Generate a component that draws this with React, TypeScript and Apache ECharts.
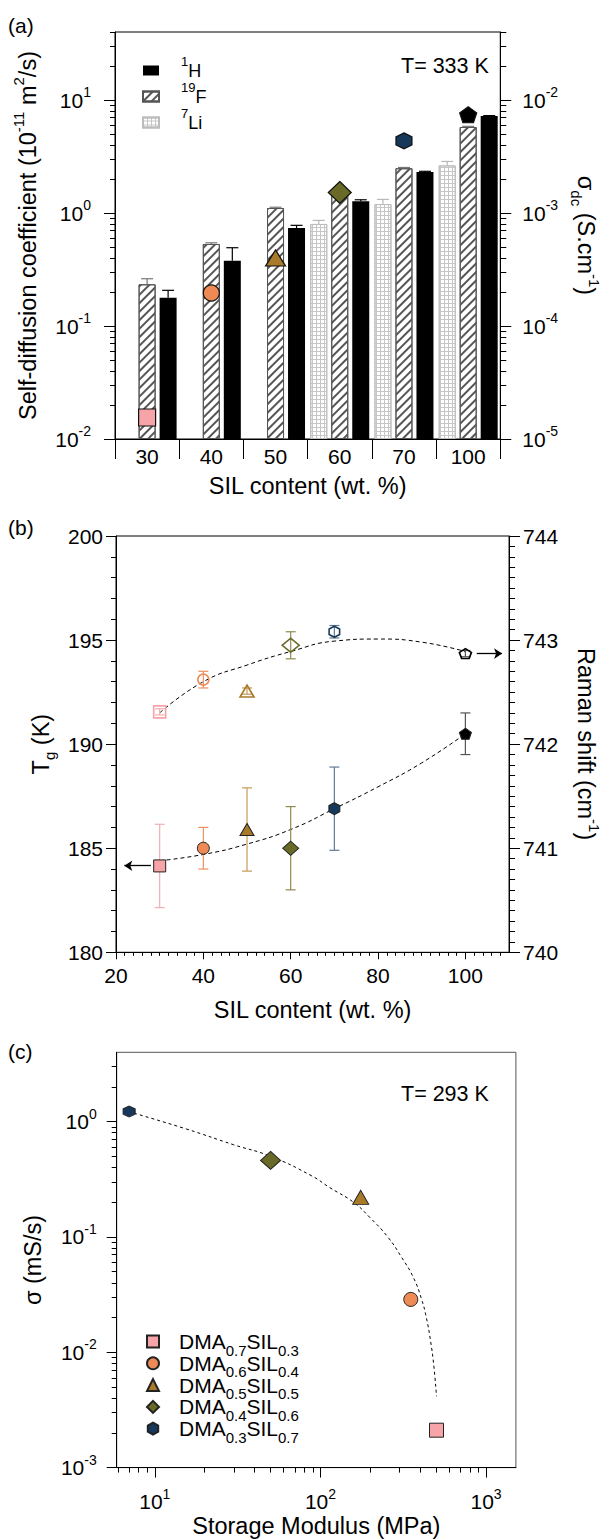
import React, { useEffect, useRef } from 'react';
import * as echarts from 'echarts';

const FONT = '"Liberation Sans", Arial, Helvetica, sans-serif';

// ---------- Panel (a): self-diffusion (left, 1e-11 m2/s) and sigma_dc (right, S/cm) ----------
const catsA = ['30', '40', '50', '60', '70', '100'];
const li7 = [null, null, null, 0.8, 1.2, 2.64];
const li7Err = [null, null, null, 0.86, 1.32, 2.86];
const f19 = [0.234, 0.532, 1.107, 1.45, 2.49, 5.77];
const f19Err = [0.262, 0.545, 1.125, 1.5, 2.53, 5.85];
const h1 = [0.178, 0.378, 0.736, 1.27, 2.31, 7.21];
const h1Err = [0.207, 0.493, 0.778, 1.31, 2.34, 7.28];
const sigmaDcA = [1.55e-5, 1.96e-4, 4.0e-4, 1.52e-3, 4.35e-3, 7.41e-3];
const leftExpA = [-2, -1, 0, 1];
const rightExpA = [-5, -4, -3, -2];

// ---------- Panel (b): Tg (left) and Raman shift (right) ----------
const silB = [30, 40, 50, 60, 70, 100];
const tgB = [184.15, 185.0, 185.9, 185.0, 186.9, 190.5];
const tgErrB = [2.0, 1.0, 2.0, 2.0, 2.0, 1.0];
const ramanB = [742.31, 742.62, 742.51, 742.95, 743.08, 742.87];
const ramanErrB = [0.03, 0.08, 0.03, 0.13, 0.06, 0.03];
const tgFitX = [30, 40, 50, 60, 70, 80, 90, 100];
const tgFitY = [184.4, 184.7, 185.2, 185.9, 186.9, 187.95, 189.1, 190.5];
const ramanFitX = [30, 40, 50, 60, 70, 80, 90, 100];
const ramanFitY = [742.3, 742.6, 742.76, 742.89, 742.99, 743.01, 742.98, 742.89];
const xTicksB = [20, 40, 60, 80, 100];
const xMinorB = [22, 24, 26, 28, 30, 32, 34, 36, 38, 42, 44, 46, 48, 50, 52, 54, 56, 58, 62, 64, 66, 68, 70, 72, 74, 76, 78, 82, 84, 86, 88, 90, 92, 94, 96, 98, 102, 104, 106, 108];

// ---------- Panel (c): sigma vs storage modulus ----------
const modulusC = [502, 351, 175, 50, 7];
const sigmaC = [0.00211, 0.0287, 0.22, 0.46, 1.22];
const compC = [['0.7', '0.3'], ['0.6', '0.4'], ['0.5', '0.5'], ['0.4', '0.6'], ['0.3', '0.7']];
const fitModulusC = [6.93, 15.6, 29.8, 49.8, 87.9, 114, 158, 199, 256, 309, 363, 407, 437, 463, 483, 502];
const fitSigmaC = [1.22, 0.859, 0.63, 0.5, 0.34, 0.267, 0.2, 0.147, 0.0991, 0.0665, 0.0448, 0.0291, 0.0196, 0.0123, 0.00776, 0.00415];
const xExpC = [1, 2, 3];
const yExpC = [-3, -2, -1, 0];

// ---------- styles ----------
const HEX = 'path://M0,-10L8.66,-5L8.66,5L0,10L-8.66,5L-8.66,-5Z';
const PENT = 'path://M0,-10L9.51,-3.09L5.88,8.09L-5.88,8.09L-9.51,-3.09Z';
const SYMBOLS = ['rect', 'circle', 'triangle', 'diamond', HEX, PENT];
const FILLS = ['#F6A4A8', '#EE8A55', '#A87A2A', '#6A6A28', '#16385A', '#000000'];
const ERRC = ['#F3AEB1', '#EB9061', '#C49B57', '#8E8C4F', '#5E7B96', '#555555'];
const SIZE_A: any[] = [17, 16, [20, 16], [23, 22], 16, [17, 16]];
const SIZE_B: any[] = [12, 12, [14, 12], [16, 14], [11, 12], [12, 11]];
const SIZE_BO: any[] = [12, 11, [14, 12], [17, 14], [10.5, 11], [12, 10]];
const SIZE_C: any[] = [14, 14, [16, 14], [20, 18], [12, 11]];
const ERR_A_COLORS = ['#b8b8b8', '#777777', '#000000'];
const BAR_W = 17;
const BAR_GAP = 4;

const lg = Math.log10;
const shL = (v: number) => lg(v) + 2;
const shR = (v: number) => lg(v) + 5;
const A_MAX = lg(40) + 2;
const C_XMIN = 0.77;
const C_XMAX = 3.18;
const C_YMIN = -3;
const C_YMAX = 0.6;

function minorLogs(exps: number[], offset: number, min: number, max: number) {
  const out: number[] = [];
  exps.forEach((e) => {
    for (let k = 2; k <= 9; k++) {
      const v = lg(k) + e + offset;
      if (v > min + 1e-6 && v < max + 1e-6) out.push(v);
    }
  });
  return out;
}

const tickRich = {
  b: { fontSize: 21, lineHeight: 30, fontFamily: FONT, color: '#000' },
  s: { fontSize: 14, lineHeight: 14, verticalAlign: 'top', fontFamily: FONT, color: '#000' },
};
const NAME_LH = 33;
const nameRich = {
  b: { fontSize: 23.5, lineHeight: NAME_LH, fontFamily: FONT, color: '#000' },
  s: { fontSize: 15, lineHeight: 15, verticalAlign: 'top', fontFamily: FONT, color: '#000' },
  u: { fontSize: 15, lineHeight: 15, verticalAlign: 'bottom', fontFamily: FONT, color: '#000' },
};
const nameStyleRich = { fontSize: 23.5, lineHeight: NAME_LH, fontFamily: FONT, color: '#000', rich: nameRich };
const nameStyle = { fontSize: 23.5, lineHeight: 26, fontFamily: FONT, color: '#000' };
const labelStyle = { fontSize: 21, lineHeight: 21, fontFamily: FONT, color: '#000' };
const blackLine = { color: '#000', width: 1 };

function mainValueAxis(o: any) {
  return {
    type: 'value',
    splitLine: { show: false },
    minorSplitLine: { show: false },
    axisLine: { show: true, onZero: false, lineStyle: blackLine },
    ...o,
  };
}
function minorAxis(gridIndex: number, position: string, min: number, max: number, values: number[], len: number) {
  return {
    type: 'value', gridIndex, position, min, max,
    axisLine: { show: false, onZero: false },
    axisLabel: { show: false },
    splitLine: { show: false },
    axisTick: { show: true, inside: false, length: len, customValues: values, lineStyle: { color: '#000' } },
  };
}

const stripeDecal = {
  symbol: 'rect', symbolSize: 1, color: '#555555', backgroundColor: '#ffffff',
  dashArrayX: [1, 0], dashArrayY: [2, 3.4], rotation: -Math.PI / 4,
};
const gridDecal = {
  symbol: 'rect', symbolSize: 1, color: '#c6c6c6',
  dashArrayX: [[1, 0], [1, 3], [1, 3], [1, 3]], dashArrayY: [1, 0], rotation: 0,
};

function errRenderB(params: any, api: any) {
  const x = api.value(0);
  const p1 = api.coord([x, api.value(1)]);
  const p2 = api.coord([x, api.value(2)]);
  const c = ERRC[api.value(3)];
  const w = 5;
  const st = { stroke: c, lineWidth: 1.2 };
  return {
    type: 'group',
    children: [
      { type: 'line', shape: { x1: p1[0], y1: p1[1], x2: p2[0], y2: p2[1] }, style: st },
      { type: 'line', shape: { x1: p1[0] - w, y1: p1[1], x2: p1[0] + w, y2: p1[1] }, style: st },
      { type: 'line', shape: { x1: p2[0] - w, y1: p2[1], x2: p2[0] + w, y2: p2[1] }, style: st },
    ],
  };
}

function buildOption() {
  const minorA = minorLogs(leftExpA, 2, 0, A_MAX);
  const minorCy = minorLogs(yExpC, 0, C_YMIN, C_YMAX);
  const minorCx = minorLogs([0, 1, 2, 3], 0, C_XMIN, C_XMAX);

  const errA: any[] = [];
  [li7Err, f19Err, h1Err].forEach((arr, slot) => {
    const base = [li7, f19, h1][slot];
    arr.forEach((t, i) => {
      if (t != null && base[i] != null) errA.push([i, slot, shL(base[i] as number), shL(t)]);
    });
  });

  const legendCNames = compC.map((_, i) => 'c' + i);

  return {
    animation: false,
    grid: [
      { left: 115, top: 32, width: 401.5, height: 407, show: true, borderColor: '#000', borderWidth: 1, backgroundColor: 'transparent' },
      { left: 116, top: 536, width: 400.6, height: 416.3, show: true, borderColor: '#000', borderWidth: 1, backgroundColor: 'transparent' },
      { left: 116.7, top: 1052.3, width: 399.2, height: 417.7, show: true, borderColor: '#555', borderWidth: 1, backgroundColor: 'transparent' },
    ],
    legend: [
      {
        orient: 'vertical', left: 142, top: 55, padding: 0, itemGap: 1.5, itemWidth: 16, itemHeight: 10,
        icon: 'rect', selectedMode: false,
        data: ['1H', '19F', '7Li'],
        formatter: (n: string) => ({ '1H': '{g| }{s|1}{b|H}', '19F': '{g| }{s|19}{b|F}', '7Li': '{g| }{s|7}{b|Li}' } as any)[n],
        textStyle: {
          rich: {
            g: { width: 17, fontSize: 10 },
            b: { fontSize: 18, lineHeight: 31, fontFamily: FONT, color: '#000' },
            s: { fontSize: 13, lineHeight: 13, verticalAlign: 'top', fontFamily: FONT, color: '#000' },
          },
        },
      },
      {
        orient: 'vertical', left: 146, top: 1331, padding: 0, itemGap: -4.7, itemWidth: 12, itemHeight: 12,
        selectedMode: false,
        data: legendCNames,
        formatter: (n: string) => {
          const c = compC[Number(n.slice(1))];
          return `{g| }{b|DMA}{u|${c[0]}}{b|SIL}{u|${c[1]}}`;
        },
        textStyle: {
          rich: {
            g: { width: 15, fontSize: 10 },
            b: { fontSize: 21, lineHeight: 32, fontFamily: FONT, color: '#000' },
            u: { fontSize: 15, lineHeight: 15, verticalAlign: 'bottom', fontFamily: FONT, color: '#000' },
          },
        },
      },
    ],
    xAxis: [
      {
        gridIndex: 0, type: 'category', data: catsA,
        axisLine: { show: true, onZero: false, lineStyle: blackLine },
        axisTick: { show: true, interval: 0, alignWithLabel: false, length: 20, lineStyle: { color: '#000' } },
        axisLabel: { ...labelStyle, interval: 0, margin: 6.5 },
        splitLine: { show: false },
        name: 'SIL content (wt. %)', nameLocation: 'middle', nameGap: 34, nameTextStyle: nameStyle,
      },
      mainValueAxis({
        gridIndex: 1, min: 20, max: 110, position: 'bottom',
        axisTick: { show: true, length: 7, customValues: xTicksB, lineStyle: { color: '#000' } },
        axisLabel: { ...labelStyle, margin: 13, customValues: xTicksB },
        name: 'SIL content (wt. %)', nameLocation: 'middle', nameGap: 44.7, nameTextStyle: nameStyle,
      }),
      minorAxis(1, 'bottom', 20, 110, xMinorB, 3.5),
      mainValueAxis({
        gridIndex: 2, min: C_XMIN, max: C_XMAX, position: 'bottom',
        axisTick: { show: true, length: 10, customValues: xExpC, lineStyle: { color: '#000' } },
        axisLabel: { customValues: xExpC, margin: 19, formatter: (v: number) => `{b|10}{s|${Math.round(v)}}`, rich: tickRich },
        name: 'Storage Modulus (MPa)', nameLocation: 'middle', nameGap: 44.7, nameTextStyle: nameStyle,
      }),
      minorAxis(2, 'bottom', C_XMIN, C_XMAX, minorCx, 5),
    ],
    yAxis: [
      mainValueAxis({
        gridIndex: 0, position: 'left', min: 0, max: A_MAX,
        axisTick: { show: true, length: 11, customValues: [0, 1, 2, 3], lineStyle: { color: '#000' } },
        axisLabel: { customValues: [0, 1, 2, 3], margin: 24, formatter: (v: number) => `{b|10}{s|${Math.round(v) + leftExpA[0]}}`, rich: tickRich },
        name: '{b|Self-diffusion coefficient (10}{s|-11}{b| m}{s|2}{b|/s)}', nameLocation: 'middle', nameGap: 58.5, nameRotate: 90, nameTextStyle: nameStyleRich,
      }),
      minorAxis(0, 'left', 0, A_MAX, minorA, 5),
      mainValueAxis({
        gridIndex: 0, position: 'right', min: 0, max: A_MAX,
        axisTick: { show: true, length: 11, customValues: [0, 1, 2, 3], lineStyle: { color: '#000' } },
        axisLabel: { customValues: [0, 1, 2, 3], margin: 22, formatter: (v: number) => `{b|10}{s|${Math.round(v) + rightExpA[0]}}`, rich: tickRich },
        name: '{b|σ}{u|dc}{b| (S.cm}{s|-1}{b|)}', nameLocation: 'middle', nameGap: 59, nameRotate: -90, nameTextStyle: nameStyleRich,
      }),
      minorAxis(0, 'right', 0, A_MAX, minorA, 6),
      mainValueAxis({
        gridIndex: 1, position: 'left', min: 180, max: 200, interval: 5,
        axisTick: { show: true, length: 10, lineStyle: { color: '#000' } },
        minorTick: { show: true, splitNumber: 5, length: 5, lineStyle: { color: '#000' } },
        axisLabel: { ...labelStyle, margin: 13 },
        name: '{b|T}{u|g}{b| (K)}', nameLocation: 'middle', nameGap: 58.5, nameRotate: 90, nameTextStyle: nameStyleRich,
      }),
      mainValueAxis({
        gridIndex: 1, position: 'right', min: 740, max: 744, interval: 1,
        axisTick: { show: true, length: 11, lineStyle: { color: '#000' } },
        minorTick: { show: true, splitNumber: 10, length: 6, lineStyle: { color: '#000' } },
        axisLabel: { ...labelStyle, margin: 14 },
        name: '{b|Raman shift (cm}{s|-1}{b|)}', nameLocation: 'middle', nameGap: 58, nameRotate: -90, nameTextStyle: nameStyleRich,
      }),
      mainValueAxis({
        gridIndex: 2, position: 'left', min: C_YMIN, max: C_YMAX,
        axisTick: { show: true, length: 10, customValues: yExpC, lineStyle: { color: '#000' } },
        axisLabel: { customValues: yExpC, margin: 20, formatter: (v: number) => `{b|10}{s|${Math.round(v)}}`, rich: tickRich },
        name: '{b|σ (mS/s)}', nameLocation: 'middle', nameGap: 58.5, nameRotate: 90, nameTextStyle: nameStyleRich,
      }),
      minorAxis(2, 'left', C_YMIN, C_YMAX, minorCy, 5),
    ],
    series: [
      // ---- (a) bars
      {
        name: '7Li', type: 'bar', xAxisIndex: 0, yAxisIndex: 0, barWidth: BAR_W, barGap: (BAR_GAP / BAR_W * 100).toFixed(1) + '%',
        data: li7.map((v) => (v == null ? '-' : shL(v))),
        itemStyle: { color: '#ffffff', borderColor: '#bdbdbd', borderWidth: 1, decal: gridDecal },
        emphasis: { disabled: true },
      },
      {
        name: '19F', type: 'bar', xAxisIndex: 0, yAxisIndex: 0, barWidth: BAR_W,
        data: f19.map((v) => shL(v)),
        itemStyle: { color: '#ffffff', borderColor: '#555555', borderWidth: 1, decal: stripeDecal },
        emphasis: { disabled: true },
      },
      {
        name: '1H', type: 'bar', xAxisIndex: 0, yAxisIndex: 0, barWidth: BAR_W,
        data: h1.map((v) => shL(v)),
        itemStyle: { color: '#000000' },
        emphasis: { disabled: true },
      },
      {
        type: 'custom', xAxisIndex: 0, yAxisIndex: 0, data: errA, encode: { x: 0, y: [2, 3] }, z: 3,
        renderItem: (params: any, api: any) => {
          const ci = api.value(0);
          const slot = api.value(1);
          const p0 = api.coord([ci, api.value(2)]);
          const p1 = api.coord([ci, api.value(3)]);
          const x = p0[0] + (slot - 1) * (BAR_W + BAR_GAP);
          const st = { stroke: ERR_A_COLORS[slot], lineWidth: 1.2 };
          return {
            type: 'group',
            children: [
              { type: 'line', shape: { x1: x, y1: p0[1], x2: x, y2: p1[1] }, style: st },
              { type: 'line', shape: { x1: x - 6, y1: p1[1], x2: x + 6, y2: p1[1] }, style: st },
            ],
          };
        },
      },
      {
        type: 'scatter', xAxisIndex: 0, yAxisIndex: 2, z: 5,
        data: sigmaDcA.map((s, i) => ({
          value: [i, shR(s)], symbol: SYMBOLS[i], symbolSize: SIZE_A[i],
          itemStyle: { color: FILLS[i], borderColor: '#111', borderWidth: 1.2, opacity: 1 },
        })),
        emphasis: { disabled: true },
      },
      // ---- (b)
      {
        type: 'line', xAxisIndex: 1, yAxisIndex: 4, smooth: true, symbol: 'none', z: 2,
        data: tgFitX.map((x, i) => [x, tgFitY[i]]),
        lineStyle: { color: '#000', width: 1, type: [4, 3] },
      },
      {
        type: 'line', xAxisIndex: 1, yAxisIndex: 5, smooth: true, symbol: 'none', z: 2,
        data: ramanFitX.map((x, i) => [x, ramanFitY[i]]),
        lineStyle: { color: '#000', width: 1, type: [4, 3] },
      },
      {
        type: 'custom', xAxisIndex: 1, yAxisIndex: 4, z: 3, encode: { x: 0, y: [1, 2] },
        data: silB.map((x, i) => [x, tgB[i] - tgErrB[i], tgB[i] + tgErrB[i], i]),
        renderItem: errRenderB,
      },
      {
        type: 'custom', xAxisIndex: 1, yAxisIndex: 5, z: 3, encode: { x: 0, y: [1, 2] },
        data: silB.map((x, i) => [x, ramanB[i] - ramanErrB[i], ramanB[i] + ramanErrB[i], i]),
        renderItem: errRenderB,
      },
      {
        type: 'scatter', xAxisIndex: 1, yAxisIndex: 4, z: 5,
        data: silB.map((x, i) => ({
          value: [x, tgB[i]], symbol: SYMBOLS[i], symbolSize: SIZE_B[i],
          itemStyle: { color: FILLS[i], borderColor: '#222', borderWidth: 1, opacity: 1 },
        })),
        emphasis: { disabled: true },
        markLine: {
          silent: true, symbol: ['none', 'arrow'], symbolSize: 8, label: { show: false },
          lineStyle: { color: '#000', width: 1.3, type: 'solid', opacity: 1 },
          data: [[{ coord: [28, 184.16] }, { coord: [21.9, 184.16] }]],
        },
      },
      {
        type: 'scatter', xAxisIndex: 1, yAxisIndex: 5, z: 5,
        data: silB.map((x, i) => ({
          value: [x, ramanB[i]], symbol: SYMBOLS[i], symbolSize: SIZE_BO[i],
          itemStyle: { color: 'rgba(0,0,0,0)', borderColor: FILLS[i], borderWidth: 1.6, opacity: 1 },
        })),
        emphasis: { disabled: true },
        markLine: {
          silent: true, symbol: ['none', 'arrow'], symbolSize: 8, label: { show: false },
          lineStyle: { color: '#000', width: 1.3, type: 'solid', opacity: 1 },
          data: [[{ coord: [102.6, 742.87] }, { coord: [108.4, 742.87] }]],
        },
      },
      // ---- (c)
      {
        type: 'line', xAxisIndex: 3, yAxisIndex: 6, smooth: true, symbol: 'none', z: 2,
        data: fitModulusC.map((m, i) => [lg(m), lg(fitSigmaC[i])]),
        lineStyle: { color: '#000', width: 1, type: [3, 3] },
      },
      ...modulusC.map((m, i) => ({
        name: 'c' + i, type: 'scatter', xAxisIndex: 3, yAxisIndex: 6, z: 5,
        symbol: SYMBOLS[i], symbolSize: SIZE_C[i],
        itemStyle: { color: FILLS[i], borderColor: '#222', borderWidth: 1, opacity: 1 },
        data: [[lg(m), lg(sigmaC[i])]],
        emphasis: { disabled: true },
      })),
    ],
    graphic: [
      { type: 'text', x: 8, y: 25, style: { text: '(a)', fontSize: 21, fontFamily: FONT, fill: '#000', verticalAlign: 'middle' } },
      { type: 'text', x: 8, y: 527, style: { text: '(b)', fontSize: 21, fontFamily: FONT, fill: '#000', verticalAlign: 'middle' } },
      { type: 'text', x: 8, y: 1051, style: { text: '(c)', fontSize: 21, fontFamily: FONT, fill: '#000', verticalAlign: 'middle' } },
      { type: 'text', x: 401, y: 66, style: { text: 'T= 333 K', fontSize: 21.5, fontFamily: FONT, fill: '#000', verticalAlign: 'middle' } },
      { type: 'text', x: 401, y: 1094, style: { text: 'T= 293 K', fontSize: 21.5, fontFamily: FONT, fill: '#000', verticalAlign: 'middle' } },
    ],
  };
}

export default function App() {
  const ref = useRef<HTMLDivElement>(null);
  useEffect(() => {
    const chart = echarts.init(ref.current as HTMLDivElement, null, { renderer: 'svg' });
    chart.setOption(buildOption() as any);
    return () => chart.dispose();
  }, []);
  return <div ref={ref} style={{ position: 'absolute', left: 0, top: 0, width: 610, height: 1540, background: '#fff' }} />;
}
